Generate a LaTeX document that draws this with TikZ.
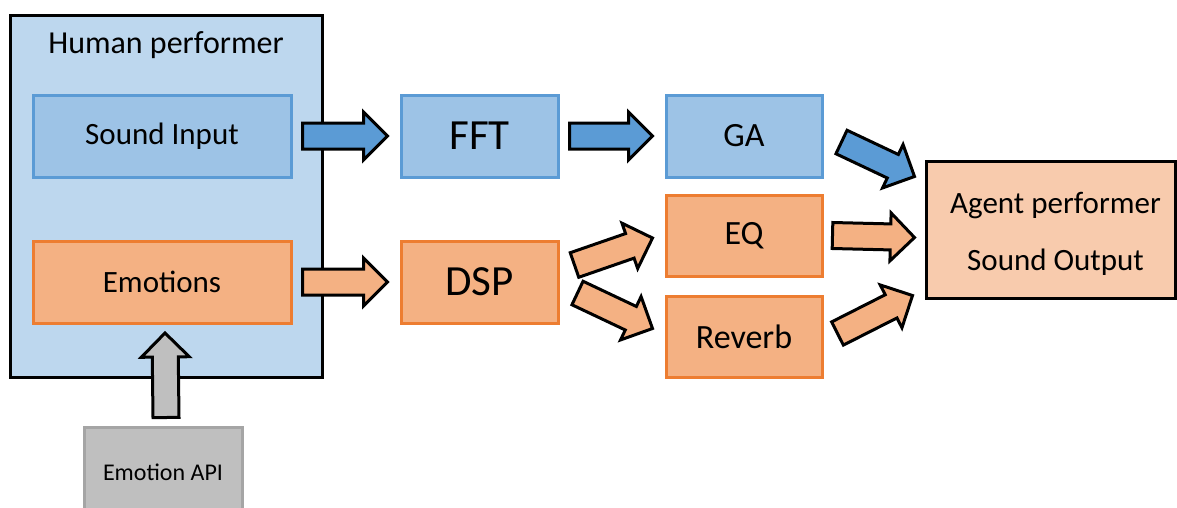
\documentclass[tikz,border=0pt]{standalone}
\usepackage{fontspec}
\setmainfont{Carlito}
\usetikzlibrary{positioning,calc}

\definecolor{humanfill}{HTML}{BDD7EE}
\definecolor{bluefill}{HTML}{9DC3E6}
\definecolor{blueline}{HTML}{5B9BD5}
\definecolor{orangefill}{HTML}{F4B183}
\definecolor{orangeline}{HTML}{ED7D31}
\definecolor{agentfill}{HTML}{F8CBAD}
\definecolor{grayfill}{HTML}{BFBFBF}
\definecolor{grayline}{HTML}{A5A5A5}

% block arrow: fill colour, start, tip
\newcommand{\blockarrow}[3]{%
  \path (#2) coordinate (ba-s) (#3) coordinate (ba-t);
  \path ($(ba-t)!24pt!(ba-s)$) coordinate (ba-h);
  \filldraw[arrowline, fill=#1] ($(ba-s)!13pt!90:(ba-t)$) -- ($(ba-h)!13pt!-90:(ba-s)$)
    -- ($(ba-h)!24pt!-90:(ba-s)$) -- (ba-t) -- ($(ba-h)!24pt!90:(ba-s)$)
    -- ($(ba-h)!13pt!90:(ba-s)$) -- ($(ba-s)!13pt!-90:(ba-t)$) -- cycle;
}

\tikzset{
  arrowline/.style={draw=black, line width=3pt, line join=miter},
  bluebox/.style={draw=blueline, fill=bluefill, line width=3pt, minimum height=82pt},
  orangebox/.style={draw=orangeline, fill=orangefill, line width=3pt, minimum height=82pt},
  bigtext/.style={font=\fontsize{43}{50}\selectfont},
  midtext/.style={font=\fontsize{34}{40}\selectfont},
  maintext/.style={font=\fontsize{31}{37}\selectfont},
}

\begin{document}
\begin{tikzpicture}[x=1pt, y=-1pt]
  \clip (0,0) rectangle (1177,507);
  \fill[white] (0,0) rectangle (1177,507);

  % human performer
  \node[draw=black, fill=humanfill, line width=3pt, minimum width=312pt, minimum height=362pt] (human) at (166,196) {};
  \node[font=\fontsize{32}{38}\selectfont] (title) at (166,45) {Human performer};
  \node[bluebox, maintext, minimum width=258pt] (sound) at (162,136) {Sound Input};
  \node[orangebox, maintext, minimum width=258pt] (emotions) at (162,282) {Emotions};
  \node[draw=grayline, fill=grayfill, line width=3pt, minimum width=158pt, minimum height=90pt,
        font=\fontsize{24}{28}\selectfont] (api) at (163,472) {Emotion API};

  % processing
  \node[bluebox, bigtext, minimum width=157pt] (fft) at (479.5,136) {FFT};
  \node[orangebox, bigtext, minimum width=157pt] (dsp) at (479.5,282) {DSP};
  \node[bluebox, midtext, minimum width=156pt] (ga) at (744,136) {GA};
  \node[orangebox, midtext, minimum width=156pt, minimum height=81pt] (eq) at (744,235.5) {EQ};
  \node[orangebox, midtext, minimum width=156pt, minimum height=81pt] (reverb) at (744,336.5) {Reverb};

  % agent
  \node[draw=black, fill=agentfill, line width=3pt, minimum width=249pt, minimum height=137pt] (agent) at (1050.5,229.5) {};
  \node[align=center, font=\fontsize{31}{57}\selectfont] (agenttext) at (1055.5,233.5) {Agent performer\\Sound Output};

  % arrows
  \blockarrow{blueline}{[xshift=10pt]sound.east}{[xshift=-12pt]fft.west}
  \blockarrow{blueline}{[xshift=10pt]fft.east}{[xshift=-12pt]ga.west}
  \blockarrow{orangefill}{[xshift=10pt]emotions.east}{[xshift=-12pt]dsp.west}
  \blockarrow{orangefill}{[shift={(15,-17)}]dsp.east}{[shift={(-12,-39.5)}]eq.south west}
  \blockarrow{orangefill}{[shift={(18,11)}]dsp.east}{[shift={(-12,-50)}]reverb.south west}
  \blockarrow{blueline}{[shift={(18,6)}]ga.east}{[shift={(-10,17)}]agent.north west}
  \blockarrow{orangefill}{[xshift=9pt]eq.east}{[shift={(-10,8)}]agent.west}
  \blockarrow{orangefill}{[shift={(14,-3)}]reverb.east}{[shift={(-12,-4)}]agent.south west}
  \blockarrow{grayfill}{[shift={(3,-8)}]api.north}{[shift={(3,8.5)}]emotions.south}
\end{tikzpicture}
\end{document}
